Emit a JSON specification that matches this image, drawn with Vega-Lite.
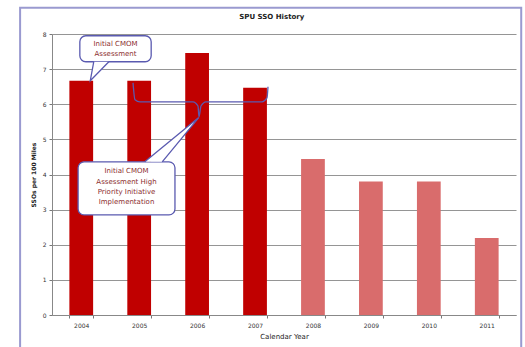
{
  "$schema": "https://vega.github.io/schema/vega-lite/v6.json",
  "width": 464,
  "height": 281,
  "autosize": "none",
  "padding": {"left": 52, "top": 34, "right": 9, "bottom": 32},
  "background": "white",
  "config": {
    "font": "DejaVu Sans",
    "view": {"stroke": null},
    "axis": {"labelFont": "DejaVu Sans", "titleFont": "DejaVu Sans"}
  },
  "datasets": {
    "bars": [
      {"year": "2004", "sso": 6.67, "status": "actual"},
      {"year": "2005", "sso": 6.67, "status": "actual"},
      {"year": "2006", "sso": 7.46, "status": "actual"},
      {"year": "2007", "sso": 6.47, "status": "actual"},
      {"year": "2008", "sso": 4.44, "status": "projected"},
      {"year": "2009", "sso": 3.8, "status": "projected"},
      {"year": "2010", "sso": 3.8, "status": "projected"},
      {"year": "2011", "sso": 2.19, "status": "projected"}
    ],
    "frame": [{"x": -0.55, "x2": 8.09, "y": 8.75, "y2": -0.95}],
    "title": [{"x": 3.79, "y": 8.49, "text": "SPU SSO History"}],
    "boxes": [
      {"x": 0.48, "x2": 1.71, "y": 7.95, "y2": 7.21},
      {"x": 0.45, "x2": 2.12, "y": 4.36, "y2": 2.85}
    ],
    "pointers": [
      {"id": "a", "o": 1, "x": 0.72, "y": 7.21},
      {"id": "a", "o": 2, "x": 0.66, "y": 6.67},
      {"id": "a", "o": 3, "x": 0.98, "y": 7.21},
      {"id": "b", "o": 1, "x": 1.6, "y": 4.36},
      {"id": "b", "o": 2, "x": 2.53, "y": 5.62},
      {"id": "b", "o": 3, "x": 1.9, "y": 4.36}
    ],
    "bracket": [
      {"o": 1, "x": 1.397, "y": 6.61},
      {"o": 2, "x": 1.431, "y": 6.13},
      {"o": 3, "x": 1.517, "y": 6.07},
      {"o": 4, "x": 2.431, "y": 6.07},
      {"o": 5, "x": 2.517, "y": 5.95},
      {"o": 6, "x": 2.534, "y": 5.64},
      {"o": 7, "x": 2.569, "y": 5.95},
      {"o": 8, "x": 2.655, "y": 6.07},
      {"o": 9, "x": 3.621, "y": 6.07},
      {"o": 10, "x": 3.707, "y": 6.18},
      {"o": 11, "x": 3.724, "y": 6.5}
    ],
    "labels": [
      {"x": 1.095, "y": 7.84, "text": ["Initial CMOM", "Assessment"]},
      {"x": 1.285, "y": 4.2, "text": ["Initial CMOM", "Assessment High", "Priority Initiative", "Implementation"]}
    ]
  },
  "layer": [
    {
      "data": {"name": "frame"},
      "mark": {"type": "rect", "fill": null, "stroke": "#9A9AD0", "strokeWidth": 2, "clip": false},
      "encoding": {
        "x": {"field": "x", "type": "quantitative", "scale": {"domain": [0, 8]}, "axis": null},
        "x2": {"field": "x2"},
        "y": {
          "field": "y", "type": "quantitative", "scale": {"domain": [0, 8]},
          "axis": {
            "title": "SSOs per 100 Miles", "titleFontSize": 6, "titleFontWeight": "bold", "titleColor": "#222", "titlePadding": 6,
            "labelFontSize": 6, "labelColor": "#333", "tickCount": 8, "tickSize": 3, "tickColor": "#777",
            "domainColor": "#888", "grid": true, "gridColor": "#959595", "gridWidth": 1.2, "labelPadding": 3
          }
        },
        "y2": {"field": "y2"}
      }
    },
    {
      "data": {"name": "bars"},
      "mark": {"type": "bar"},
      "encoding": {
        "x": {
          "field": "year", "type": "ordinal",
          "scale": {"paddingInner": 0.59, "paddingOuter": 0.3},
          "axis": {
            "title": "Calendar Year", "titleFontSize": 7, "titleFontWeight": "normal", "titleColor": "#222", "titlePadding": 4,
            "labelFontSize": 6, "labelColor": "#333", "labelAngle": 0, "labelPadding": 4,
            "tickBand": "extent", "tickSize": 3, "tickColor": "#777", "domainColor": "#888"
          }
        },
        "y": {"field": "sso", "type": "quantitative", "title": "SSOs per 100 Miles"},
        "color": {
          "field": "status", "type": "nominal",
          "scale": {"domain": ["actual", "projected"], "range": ["#C00000", "#D96C6C"]},
          "legend": null
        }
      }
    },
    {
      "data": {"name": "title"},
      "mark": {"type": "text", "fontSize": 7, "fontWeight": "bold", "color": "#222", "align": "center", "baseline": "middle"},
      "encoding": {
        "x": {"field": "x", "type": "quantitative", "scale": {"domain": [0, 8]}, "axis": null},
        "y": {"field": "y", "type": "quantitative", "title": "SSOs per 100 Miles"},
        "text": {"field": "text"}
      }
    },
    {
      "data": {"name": "bracket"},
      "mark": {"type": "line", "stroke": "#5A5AB0", "strokeWidth": 1.3, "interpolate": "monotone"},
      "encoding": {
        "x": {"field": "x", "type": "quantitative", "scale": {"domain": [0, 8]}, "axis": null},
        "y": {"field": "y", "type": "quantitative", "title": "SSOs per 100 Miles"},
        "order": {"field": "o"}
      }
    },
    {
      "data": {"name": "boxes"},
      "mark": {"type": "rect", "fill": "white", "stroke": "#5A5AB0", "strokeWidth": 1.3, "cornerRadius": 6},
      "encoding": {
        "x": {"field": "x", "type": "quantitative", "scale": {"domain": [0, 8]}, "axis": null},
        "x2": {"field": "x2"},
        "y": {"field": "y", "type": "quantitative", "title": "SSOs per 100 Miles"},
        "y2": {"field": "y2"}
      }
    },
    {
      "data": {"name": "pointers"},
      "mark": {"type": "line", "stroke": "#5A5AB0", "strokeWidth": 1.3, "fill": "white", "interpolate": "linear"},
      "encoding": {
        "x": {"field": "x", "type": "quantitative", "scale": {"domain": [0, 8]}, "axis": null},
        "y": {"field": "y", "type": "quantitative", "title": "SSOs per 100 Miles"},
        "detail": {"field": "id"},
        "order": {"field": "o"}
      }
    },
    {
      "data": {"name": "labels"},
      "mark": {"type": "text", "fontSize": 7, "color": "#8B2E2E", "lineHeight": 10.3, "align": "center", "baseline": "top"},
      "encoding": {
        "x": {"field": "x", "type": "quantitative", "scale": {"domain": [0, 8]}, "axis": null},
        "y": {"field": "y", "type": "quantitative", "title": "SSOs per 100 Miles"},
        "text": {"field": "text"}
      }
    }
  ],
  "resolve": {"scale": {"x": "independent"}}
}
